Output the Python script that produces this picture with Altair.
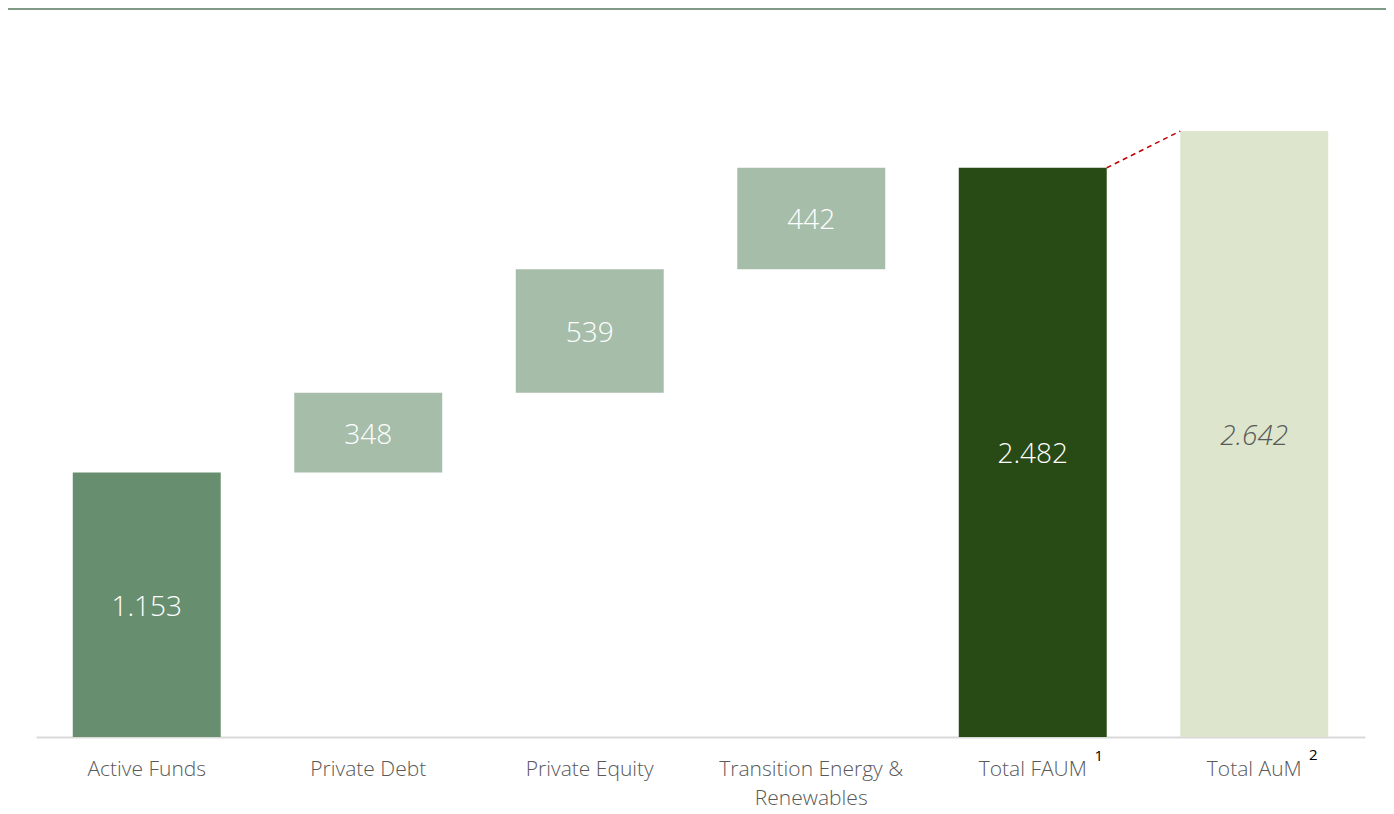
import altair as alt
import pandas as pd

categories = ["Active Funds", "Private Debt", "Private Equity",
              "Transition Energy & Renewables", "Total FAUM", "Total AuM"]
values = [1153, 348, 539, 442, 2482, 2642]
kinds = ["base", "step", "step", "step", "total", "aum"]
value_labels = ["1.153", "348", "539", "442", "2.482", "2.642"]
sup_cats = ["Total FAUM", "Total AuM"]
sup_texts = ["1", "2"]

colors = {"base": "#678F6F", "step": "#A6BDAA", "total": "#284A14", "aum": "#DDE6CC"}

rows = []
running = 0
for c, v, k, lab in zip(categories, values, kinds, value_labels):
    if k == "base":
        start, end = 0, v
        running = v
    elif k == "step":
        start, end = running, running + v
        running += v
    else:
        start, end = 0, v
    rows.append(dict(cat=c, start=start, end=end, mid=(start + end) / 2,
                     label=lab, kind=k))
df = pd.DataFrame(rows)

W, H = 1329, 688
FONT = "Open Sans"

xscale = alt.Scale(domain=categories, paddingInner=0.332, paddingOuter=0.166)
xenc = alt.X("cat:N", title=None, scale=xscale,
             axis=alt.Axis(labelAngle=0, ticks=False, labelFontSize=21, labelColor="#595959",
                           labelFont=FONT, labelFontWeight=300, labelPadding=21, labelLimit=0,
                           labelLineHeight=29, domainColor="#D9D9D9", domainWidth=2,
                           labelExpr="datum.value == 'Transition Energy & Renewables' ? ['Transition Energy &', 'Renewables'] : datum.value"))
yscale = alt.Scale(domain=[0, 3000], nice=False)

base = alt.Chart(df)

bars = base.mark_bar().encode(
    x=xenc,
    y=alt.Y("start:Q", scale=yscale, axis=None),
    y2="end:Q",
    color=alt.Color("kind:N", scale=alt.Scale(domain=list(colors.keys()), range=list(colors.values())), legend=None),
)

text_norm = base.transform_filter("datum.kind != 'aum'").mark_text(
    fontSize=28, font=FONT, fontWeight=300, color="#FFFFFF", baseline="middle", dy=3
).encode(x=alt.X("cat:N", scale=xscale), y=alt.Y("mid:Q", scale=yscale), text="label:N")

text_aum = base.transform_filter("datum.kind == 'aum'").mark_text(
    fontSize=28, font=FONT, fontWeight=300, fontStyle="italic", color="#595959", baseline="middle", dy=3
).encode(x=alt.X("cat:N", scale=xscale), y=alt.Y("mid:Q", scale=yscale), text="label:N")

sup_df = pd.DataFrame({"cat": sup_cats, "sup": sup_texts})
sup1 = alt.Chart(sup_df).transform_filter("datum.sup == '1'").mark_text(
    fontSize=15, font=FONT, color="#000000", dx=66, dy=19, baseline="middle"
).encode(x=alt.X("cat:N", scale=xscale), y=alt.value(H), text="sup:N")
sup2 = alt.Chart(sup_df).transform_filter("datum.sup == '2'").mark_text(
    fontSize=15, font=FONT, color="#000000", dx=59, dy=18, baseline="middle"
).encode(x=alt.X("cat:N", scale=xscale), y=alt.value(H), text="sup:N")

link_df = pd.DataFrame({"from": ["Total FAUM"], "to": ["Total AuM"],
                        "y1": [values[4]], "y2": [values[5]]})
link = alt.Chart(link_df).mark_rule(color="#C00000", strokeDash=[5, 4], strokeWidth=1.5).encode(
    x=alt.X("from:N", scale=xscale, bandPosition=1),
    x2=alt.X2("to:N", bandPosition=0),
    y=alt.Y("y1:Q", scale=yscale),
    y2="y2:Q",
)

topline = alt.Chart(link_df).mark_rule(color="#7F9A85", strokeWidth=2).encode(
    x=alt.value(-30), x2=alt.value(W + 40), y=alt.value(-40)
)

chart = alt.layer(bars, link, text_norm, text_aum, sup1, sup2, topline).properties(
    width=W, height=H,
    padding={"left": 28, "top": 41, "right": 21, "bottom": 76},
    autosize=alt.AutoSizeParams(type="none"),
).configure_view(stroke=None)

chart.save("out.html", embed_options={"renderer": "svg", "actions": False})
